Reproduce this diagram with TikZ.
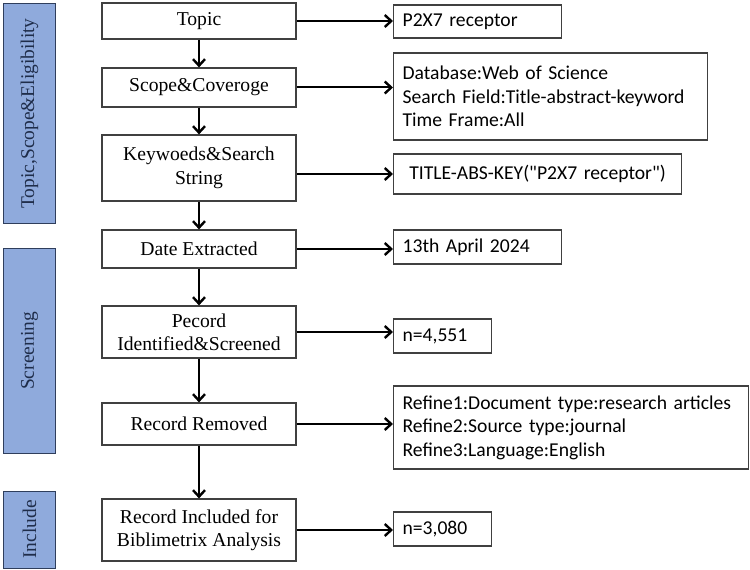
\documentclass[tikz,border=0pt]{standalone}
\usepackage{fontspec}
\setmainfont{Liberation Serif}
\newfontfamily\calib{Carlito}
\usetikzlibrary{arrows.meta,positioning}
\definecolor{barfill}{HTML}{8FAADC}
\definecolor{barline}{HTML}{2F3E5C}
\definecolor{bartext}{HTML}{1F2D4A}
\definecolor{boxline}{HTML}{404040}
\begin{document}
\begin{tikzpicture}[x=1bp,y=-1bp,
  mainbox/.style={draw=boxline,line width=1.2bp,fill=white,minimum width=194bp,align=center,inner sep=2bp,
    font=\fontsize{19.7}{23.5}\selectfont},
  infobox/.style={draw=boxline,line width=1.2bp,fill=white,anchor=west,align=left,inner xsep=9bp,inner ysep=2bp,
    font=\calib\fontsize{19.7}{23.5}\selectfont},
  bar/.style={draw=barline,line width=1bp,fill=barfill,minimum width=51bp,inner sep=0pt},
  bartxt/.style={text=bartext,rotate=90,font=\fontsize{19.5}{22}\selectfont},
  arr/.style={line width=2bp,-{Straight Barb[length=6.5bp,width=12bp,line width=2.4bp]}}]
\useasboundingbox (0,0) rectangle (750,570);
\fill[white] (0,0) rectangle (750,570);
% side bars
\node[bar,minimum height=219bp] (b1) at (29.5,113.5) {};
\node[bartxt] (t1) at (b1.center) {Topic,Scope\&Eligibility};
\node[bar,minimum height=204bp] (b2) at (29.5,351) {};
\node[bartxt] (t2) at (b2.center) {Screening};
\node[bar,minimum height=77bp] (b3) at (29.5,529.5) {};
\node[bartxt] (t3) at (b3.center) {Include};
% main boxes
\node[mainbox,minimum height=36bp] (topic) at (199,21) {Topic};
\node[mainbox,minimum height=39bp] (scope) at (199,87.5) {Scope\&Coveroge};
\node[mainbox,minimum height=66bp] (kw) at (199,168) {Keywoeds\&Search\\String};
\node[mainbox,minimum height=38bp] (date) at (199,249) {Date Extracted};
\node[mainbox,minimum height=52bp] (pec) at (199,332) {Pecord\\Identified\&Screened};
\node[mainbox,minimum height=42bp] (rem) at (199,424) {Record Removed};
\node[mainbox,minimum height=62bp] (inc) at (199,530) {Record Included for\\Biblimetrix Analysis};
% info boxes
\node[infobox,text width=150bp,minimum height=33bp] (p2x) at (393,21.5) {P2X7 receptor};
\node[infobox,text width=296bp,minimum height=87bp] (db) at (393,96.5) {Database:Web of Science\\Search Field:Title-abstract-keyword\\Time Frame:All};
\node[infobox,text width=270bp,minimum height=40bp,align=center] (tk) at (393,174) {TITLE-ABS-KEY("P2X7 receptor")};
\node[infobox,text width=150bp,minimum height=34bp] (dt) at (393,247) {13th April 2024};
\node[infobox,text width=80bp,minimum height=34bp] (n1) at (393,336) {n=4,551};
\node[infobox,text width=337bp,minimum height=83bp] (rf) at (393,427.5) {Refine1:Document type:research articles\\Refine2:Source type:journal\\Refine3:Language:English};
\node[infobox,text width=80bp,minimum height=34bp] (n2) at (393,529) {n=3,080};
% vertical arrows
\draw[arr] (topic.south) -- (scope.north);
\draw[arr] (scope.south) -- (kw.north);
\draw[arr] (kw.south) -- (date.north);
\draw[arr] (date.south) -- (pec.north);
\draw[arr] (pec.south) -- (rem.north);
\draw[arr] (rem.south) -- (inc.north);
% horizontal arrows
\draw[arr] (topic.east) -- (topic.east -| p2x.west);
\draw[arr] (scope.east) -- (scope.east -| db.west);
\draw[arr] (tk.west -| kw.east) -- (tk.west);
\draw[arr] (date.east) -- (date.east -| dt.west);
\draw[arr] (pec.east) -- (pec.east -| n1.west);
\draw[arr] (rem.east) -- (rem.east -| rf.west);
\draw[arr] (inc.east) -- (inc.east -| n2.west);
\end{tikzpicture}
\end{document}
